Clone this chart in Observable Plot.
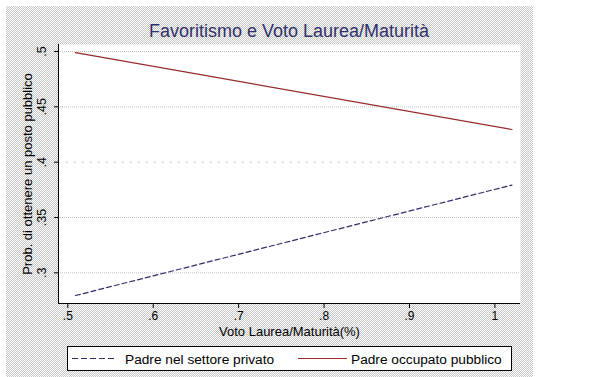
<!DOCTYPE html>
<html><head><meta charset="utf-8">
<script src="https://cdn.jsdelivr.net/npm/d3@7"></script>
<script src="https://cdn.jsdelivr.net/npm/@observablehq/plot@0.6"></script>
<style>
body{margin:0;background:#fff;font-family:"Liberation Sans",Arial,sans-serif;}
#page{position:relative;width:606px;height:377px;overflow:hidden;background:#fff;}
#bg{position:absolute;left:6px;top:6px;width:527px;height:371px;background:repeating-conic-gradient(#c6c6c6 0% 25%, #ffffff 0% 50%) 0 0/2px 2px;}
#chart{position:absolute;left:0;top:0;}
#title{position:absolute;left:58px;width:462px;top:21.5px;line-height:18px;text-align:center;font-size:18px;color:#31316b;white-space:nowrap;}
#legend{position:absolute;left:0;top:0;}
</style>
</head><body>
<div id="page">
  <div id="bg"></div>
  <div id="title"></div>
  <div id="chart"></div>
  <svg id="legend" width="606" height="377"></svg>
</div>
<script>
// ---- data ----
const titleText = "Favoritismo e Voto Laurea/Maturità";
const xLabel = "Voto Laurea/Maturità(%)";
const yLabel = "Prob. di ottenere un posto pubblico";
const seriesNames = ["Padre nel settore privato", "Padre occupato pubblico"];
const seriesColors = ["#2e2e6b", "#962a2a"];
const xTicks = [0.5, 0.6, 0.7, 0.8, 0.9, 1];
const yTicks = [0.3, 0.35, 0.4, 0.45, 0.5];
const voto = [0.509, 1.020];
const privato = [0.2795, 0.3793];
const pubblico = [0.499, 0.4295];
const xDomain = [0.4891, 1.030];
const yDomain = [0.2723, 0.5063];

const fmt = d => d3.format("~g")(d).replace(/^0\./, ".");
const privRows = voto.map((x, i) => ({x, y: privato[i]}));
const pubRows = voto.map((x, i) => ({x, y: pubblico[i]}));

document.getElementById("title").textContent = titleText;

const chart = Plot.plot({
  width: 606, height: 340,
  marginLeft: 58, marginRight: 86, marginTop: 44, marginBottom: 37,
  style: {background: "transparent", fontFamily: "'Liberation Sans', Arial, sans-serif", fontSize: "13px", color: "#000"},
  x: {domain: xDomain},
  y: {domain: yDomain},
  marks: [
    Plot.frame({fill: "white", stroke: "none"}),
    Plot.ruleY(yTicks.filter(d => d !== 0.4), {stroke: "#c4c4c4", strokeDasharray: "1,1"}),
    Plot.ruleY(yTicks.filter(d => d === 0.4), {stroke: "#b4b4b4", strokeDasharray: "1.5,6.5"}),
    Plot.line(privRows, {x: "x", y: "y", stroke: seriesColors[0], strokeWidth: 1.2, strokeDasharray: "5,3"}),
    Plot.line(pubRows, {x: "x", y: "y", stroke: seriesColors[1], strokeWidth: 1.2}),
    Plot.ruleX([xDomain[0]], {stroke: "black"}),
    Plot.ruleY([yDomain[0]], {stroke: "black"}),
    Plot.axisX({ticks: xTicks, tickSize: 5, tickPadding: 3, tickFormat: fmt, label: null, fontSize: 12}),
    Plot.axisY({ticks: yTicks, tickSize: 4, tickFormat: () => "", label: null}),
    Plot.text(yTicks, {y: d => d, text: fmt, frameAnchor: "left", dx: -13, rotate: -90, lineAnchor: "bottom", textAnchor: "middle", fontSize: 12.5}),
    Plot.text([yLabel], {frameAnchor: "left", dx: -27, rotate: -90, lineAnchor: "bottom", textAnchor: "middle"}),
    Plot.text([xLabel], {frameAnchor: "bottom", dy: 32, lineAnchor: "bottom", textAnchor: "middle"})
  ]
});
document.getElementById("chart").appendChild(chart);

// ---- legend ----
const lg = d3.select("#legend");
lg.append("rect").attr("x", 67.5).attr("y", 346.5).attr("width", 444).attr("height", 24)
  .attr("fill", "white").attr("stroke", "black").attr("stroke-width", 1);
const items = [
  {x1: 72, x2: 117, tx: 125, dash: "6,3"},
  {x1: 298, x2: 347, tx: 351, dash: null}
];
items.forEach((it, i) => {
  const l = lg.append("line").attr("x1", it.x1).attr("x2", it.x2).attr("y1", 358.5).attr("y2", 358.5)
    .attr("stroke", seriesColors[i]).attr("stroke-width", 1.2);
  if (it.dash) l.attr("stroke-dasharray", it.dash);
  lg.append("text").attr("x", it.tx).attr("y", 364).attr("font-size", "13.7px")
    .attr("font-family", "'Liberation Sans', Arial, sans-serif").attr("fill", "#000").text(seriesNames[i]);
});
</script>
</body></html>
